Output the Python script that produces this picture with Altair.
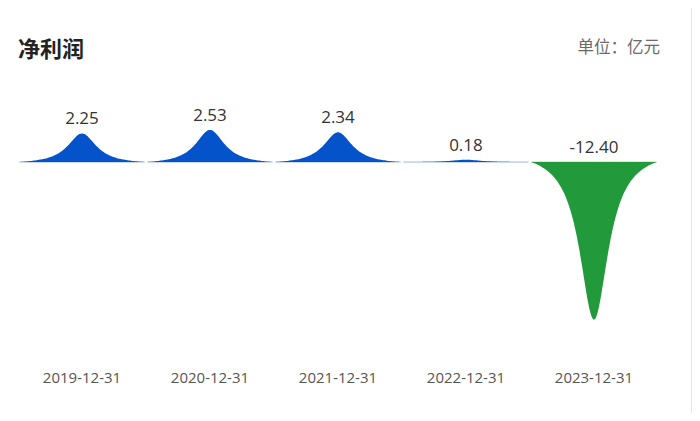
import altair as alt
import pandas as pd

categories = ["2019-12-31", "2020-12-31", "2021-12-31", "2022-12-31", "2023-12-31"]
values = [2.25, 2.53, 2.34, 0.18, -12.40]

title_text = "净利润"
unit_text = "单位：亿元"

df = pd.DataFrame({"date": categories, "value": values, "idx": list(range(len(categories)))})

W, H = 684, 405
half = 0.49
xscale = alt.Scale(domain=[-0.578, 4.766], nice=False, zero=False)
yscale = alt.Scale(domain=[-19.76, 12.13], nice=False, zero=False)
cscale = alt.Scale(domain=["pos", "neg"], range=["#0453CB", "#22993A"])

base = alt.Chart(df)

# peak shapes: smooth bell profile drawn per category
shapes = base.transform_calculate(
    ts="sequence(-1, 1.0001, 0.02)"
).transform_flatten(["ts"]).transform_calculate(
    px=f"datum.idx + datum.ts * {half}",
    g="(1/(1+pow(datum.ts/0.28,2)) - 1/(1+pow(1/0.28,2))) / (1 - 1/(1+pow(1/0.28,2)))",
).transform_calculate(
    py="datum.value * max(datum.g, 0)",
    sgn="datum.value >= 0 ? 'pos' : 'neg'",
).mark_area(interpolate="monotone").encode(
    x=alt.X("px:Q", scale=xscale, axis=None),
    y=alt.Y("py:Q", scale=yscale, axis=None),
    y2=alt.datum(0),
    detail="date:N",
    color=alt.Color("sgn:N", scale=cscale, legend=None),
)

baseline = base.transform_calculate(
    x1=f"datum.idx - {half}", x2=f"datum.idx + {half}", zero="0",
    sgn="datum.value >= 0 ? 'pos' : 'neg'",
).mark_rule(strokeWidth=1, opacity=0.4).encode(
    x=alt.X("x1:Q", scale=xscale, axis=None),
    x2="x2:Q",
    y=alt.Y("zero:Q", scale=yscale, axis=None),
    color=alt.Color("sgn:N", scale=cscale, legend=None),
)

value_labels = base.transform_calculate(
    ty="max(datum.value, 0)",
    lbl="replace(format(datum.value, '.2f'), '\u2212', '-')",
).mark_text(
    baseline="alphabetic", dy=-9, fontSize=17, font="Open Sans", color="#333333"
).encode(
    x=alt.X("idx:Q", scale=xscale, axis=None),
    y=alt.Y("ty:Q", scale=yscale, axis=None),
    text="lbl:N",
)

date_labels = base.mark_text(
    baseline="middle", fontSize=15, font="Open Sans", color="#555555"
).encode(
    x=alt.X("idx:Q", scale=xscale, axis=None),
    y=alt.value(370),
    text="date:N",
)

title = alt.Chart(pd.DataFrame({"t": [title_text]})).mark_text(
    align="left", baseline="middle", fontSize=22, fontWeight="bold",
    font="Noto Sans CJK SC", color="#222222"
).encode(x=alt.value(10), y=alt.value(42), text="t:N")

unit = alt.Chart(pd.DataFrame({"t": [unit_text]})).mark_text(
    align="right", baseline="middle", fontSize=16.5,
    font="Noto Sans CJK SC", color="#6a6a6a"
).encode(x=alt.value(652), y=alt.value(40), text="t:N")

border = alt.Chart(pd.DataFrame({"a": [0]})).mark_rule(color="#e6e6e6", strokeWidth=1).encode(
    x=alt.value(683.5), y=alt.value(0), y2=alt.value(H)
)

chart = alt.layer(shapes, baseline, value_labels, date_labels, title, unit, border).properties(
    width=W, height=H, padding=0, autosize=alt.AutoSizeParams(type="none")
).configure_view(stroke=None)

chart.save("out.html", embed_options={"renderer": "svg", "actions": False})
